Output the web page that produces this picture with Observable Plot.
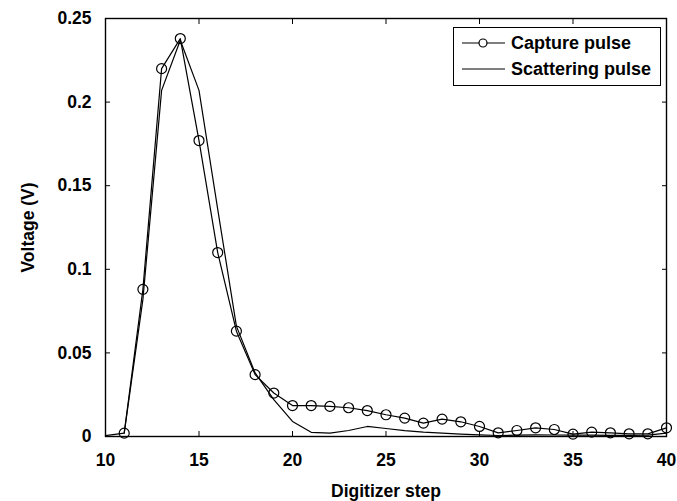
<!DOCTYPE html>
<html>
<head>
<meta charset="utf-8">
<script src="https://cdn.jsdelivr.net/npm/d3@7"></script>
<script src="https://cdn.jsdelivr.net/npm/@observablehq/plot@0.6"></script>
<style>
  html, body { margin: 0; padding: 0; background: #fff; }
  #wrap { position: relative; width: 677px; height: 501px; font-family: "Liberation Sans", Arial, sans-serif; }
  #legend { position: absolute; left: 453px; top: 27px; width: 208px; height: 59px; border: 1.3px solid #000; background: #fff; box-sizing: border-box; }
</style>
</head>
<body>
<div id="wrap"></div>
<script>
// ---- data ----
const captureSteps = [11,12,13,14,15,16,17,18,19,20,21,22,23,24,25,26,27,28,29,30,31,32,33,34,35,36,37,38,39,40];
const captureVoltage = [0.002,0.088,0.220,0.238,0.177,0.110,0.063,0.037,0.026,0.0185,0.0185,0.018,0.0172,0.0155,0.013,0.011,0.008,0.0104,0.0088,0.006,0.0022,0.0036,0.0052,0.0042,0.0014,0.0026,0.0022,0.0016,0.0016,0.0052];
const scatterSteps = [10,11,12,13,14,15,16,17,18,19,20,21,22,23,24,25,26,27,28,29,30,31,32,33,34,35,36,37,38,39,40];
const scatterVoltage = [0.0005,0.002,0.082,0.207,0.237,0.207,0.136,0.066,0.038,0.022,0.009,0.0025,0.002,0.0036,0.006,0.0048,0.0035,0.0026,0.002,0.0014,0.001,0.0006,0.0008,0.001,0.0009,0.0008,0.0008,0.0007,0.0007,0.0008,0.002];
const xTicks = [10,15,20,25,30,35,40];
const yTicks = [0,0.05,0.1,0.15,0.2,0.25];
const yTickLabels = ["0","0.05","0.1","0.15","0.2","0.25"];
const seriesNames = ["Capture pulse","Scattering pulse"];
const xLabel = "Digitizer step";
const yLabel = "Voltage (V)";

const capture = captureSteps.map((s, i) => ({step: s, v: captureVoltage[i]}));
const scatter = scatterSteps.map((s, i) => ({step: s, v: scatterVoltage[i]}));

const chart = Plot.plot({
  width: 677,
  height: 501,
  marginLeft: 105,
  marginRight: 11,
  marginTop: 18,
  marginBottom: 65,
  style: {fontFamily: "Liberation Sans, Arial, sans-serif", fontSize: "17px", fontWeight: "bold", color: "#000", background: "#fff"},
  x: {domain: [10, 40], ticks: xTicks},
  y: {domain: [0, 0.25], ticks: yTicks},
  marks: [
    Plot.frame({stroke: "#000", strokeWidth: 1.4}),
    Plot.axisX(xTicks, {anchor: "bottom", tickSize: -5, tickPadding: 22, label: xLabel, labelAnchor: "center", labelOffset: 60, labelArrow: "none", fontSize: 17.5}),
    Plot.axisX(xTicks, {anchor: "top", tickSize: -5, tickFormat: () => "", label: null}),
    Plot.axisY(yTicks, {anchor: "left", tickSize: -5, tickPadding: 19, tickFormat: (d) => yTickLabels[yTicks.indexOf(d)], label: yLabel, labelAnchor: "center", labelOffset: 84, labelArrow: "none", fontSize: 17.5}),
    Plot.axisY(yTicks, {anchor: "right", tickSize: -5, tickFormat: () => "", label: null}),
    Plot.line(scatter, {x: "step", y: "v", stroke: "#000", strokeWidth: 1.2}),
    Plot.line(capture, {x: "step", y: "v", stroke: "#000", strokeWidth: 1.2}),
    Plot.dot(capture, {x: "step", y: "v", r: 5, stroke: "#000", strokeWidth: 1.2, fill: "none"})
  ]
});
const wrap = document.getElementById("wrap");
wrap.appendChild(chart);

// legend
const leg = document.createElement("div");
leg.id = "legend";
const ns = "http://www.w3.org/2000/svg";
const svg = document.createElementNS(ns, "svg");
svg.setAttribute("width", "208");
svg.setAttribute("height", "59");
svg.style.display = "block";
seriesNames.forEach((name, i) => {
  const y = 15 + i * 26;
  const line = document.createElementNS(ns, "line");
  line.setAttribute("x1", 8); line.setAttribute("x2", 51);
  line.setAttribute("y1", y); line.setAttribute("y2", y);
  line.setAttribute("stroke", "#000"); line.setAttribute("stroke-width", "1.2");
  svg.appendChild(line);
  if (i === 0) {
    const c = document.createElementNS(ns, "circle");
    c.setAttribute("cx", 29); c.setAttribute("cy", y); c.setAttribute("r", 4);
    c.setAttribute("fill", "#fff"); c.setAttribute("stroke", "#000"); c.setAttribute("stroke-width", "1.2");
    svg.appendChild(c);
  }
  const t = document.createElementNS(ns, "text");
  t.setAttribute("x", 57); t.setAttribute("y", y);
  t.setAttribute("dy", "0.35em");
  t.setAttribute("font-size", "18");
  t.setAttribute("font-weight", "bold");
  t.setAttribute("font-family", "Liberation Sans, Arial, sans-serif");
  t.textContent = name;
  svg.appendChild(t);
});
leg.appendChild(svg);
wrap.appendChild(leg);
</script>
</body>
</html>
